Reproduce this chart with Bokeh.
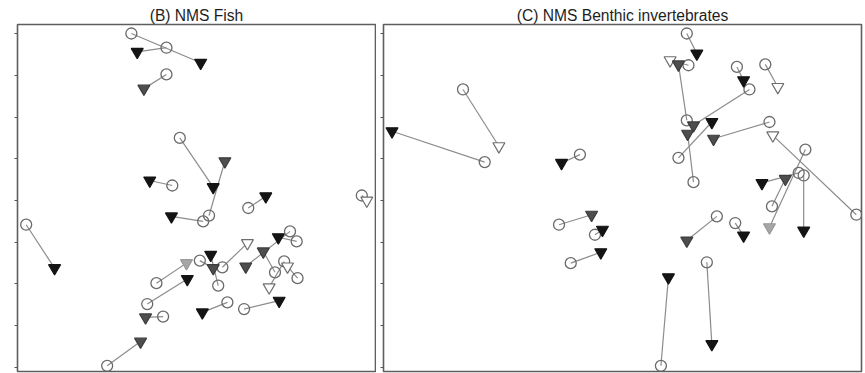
from bokeh.plotting import figure
from bokeh.layouts import row
from bokeh.models import FixedTicker, Range1d, ColumnDataSource
from bokeh.embed import file_html
from bokeh.resources import INLINE

# ---------------- (B) NMS Fish : start (circle) -> end (triangle) ----------------
fish_start_x = [-0.78, -0.36, -0.36, -0.20, -0.29, 0.62, 0.15, 0.08, 1.98, -2.04, -0.48, -0.59,
                -0.40, -1.07, 0.04, 0.31, 0.26, 1.12, 1.20, 0.94, 1.21, 1.05, 0.37, 0.57]
fish_start_y = [2.00, 1.83, 1.51, 0.75, 0.18, -0.09, -0.18, -0.25, 0.06, -0.29, -0.99, -1.24,
                -1.39, -1.98, -0.72, -0.80, -1.02, -0.37, -0.49, -0.86, -0.93, -0.73, -1.22, -1.30]
fish_end_x = [0.05, -0.71, -0.63, 0.20, -0.56, 0.83, 0.34, -0.30, 2.04, -1.70, -0.12, -0.11,
              -0.61, -0.67, 0.20, 0.61, 0.17, 0.59, 0.98, 0.80, 1.09, 0.87, 0.07, 0.99]
fish_end_y = [1.65, 1.78, 1.34, 0.16, 0.24, 0.05, 0.47, -0.19, 0.00, -0.81, -0.75, -0.94,
              -1.40, -1.69, -0.81, -0.51, -0.65, -0.79, -0.44, -0.61, -0.79, -1.04, -1.34, -1.20]
fish_group = ["black", "black", "dark", "black", "black", "black", "dark", "black", "open", "black",
              "light", "black", "dark", "dark", "dark", "open", "black", "dark", "black", "dark",
              "open", "open", "black", "black"]

# ---------------- (C) NMS Benthic invertebrates ----------------
benth_start_x = [0.77, 0.79, 0.77, 1.37, 1.71, 1.52, 0.67, 0.85, 1.76, 2.80, 2.19, 1.79,
                 2.11, 2.17, -1.65, -1.91, -0.51, -0.76, -0.33, -0.62, 1.13, 1.35, 1.01, 0.46]
benth_start_y = [2.00, 1.62, 0.96, 1.60, 1.63, 1.33, 0.51, 0.22, 0.94, -0.17, 0.61, -0.07,
                 0.33, 0.30, 0.46, 1.33, 0.55, -0.29, -0.41, -0.75, -0.19, -0.27, -0.74, -1.98]
benth_end_x = [0.89, 0.57, 0.67, 1.45, 1.86, 0.85, 1.07, 0.78, 1.09, 1.80, 1.76, 1.95,
               1.67, 2.17, -2.76, -1.48, -0.73, -0.37, -0.24, -0.26, 0.77, 1.45, 1.07, 0.55]
benth_end_y = [1.76, 1.68, 1.63, 1.44, 1.36, 0.90, 0.94, 0.80, 0.74, 0.78, -0.32, 0.26,
               0.21, -0.36, 0.83, 0.65, 0.45, -0.17, -0.35, -0.62, -0.48, -0.42, -1.72, -0.92]
benth_group = ["black", "open", "dark", "black", "open", "dark", "black", "dark", "dark", "open",
               "light", "dark", "black", "black", "black", "open", "black", "dark", "black", "black",
               "dark", "black", "black", "black"]

axis_ticks = [-2.0, -1.5, -1.0, -0.5, 0.0, 0.5, 1.0, 1.5, 2.0]

FILL = {"black": "#141414", "dark": "#4e4e4e", "light": "#a6a6a6", "open": "#ffffff"}
EDGE = {"black": "#141414", "dark": "#3c3c3c", "light": "#9a9a9a", "open": "#6e6e6e"}


def panel(title, sx, sy, ex, ey, grp, xhalf, width, bl, br, toff):
    p = figure(width=width, height=373, output_backend="svg", toolbar_location=None,
               x_range=Range1d(-xhalf, xhalf), y_range=Range1d(-2.048, 2.108),
               x_axis_location=None, y_axis_location="left",
               min_border_left=bl, min_border_right=br, min_border_top=24, min_border_bottom=2)
    p.title.text = title
    p.title.align = "center"
    p.title.offset = toff
    p.title.text_font = "Liberation Sans"
    p.title.text_font_size = "15.6px"
    p.title.text_font_style = "normal"
    p.title.text_color = "#1e1e1e"
    p.title.text_line_height = 1.0
    p.title.standoff = 2
    p.xgrid.visible = False
    p.ygrid.visible = False
    p.outline_line_color = "#5e5e5e"
    p.outline_line_width = 1.6
    p.background_fill_color = "white"
    p.border_fill_color = "white"
    ax = p.yaxis[0]
    ax.ticker = FixedTicker(ticks=axis_ticks)
    ax.major_label_overrides = {t: "" for t in axis_ticks}
    ax.major_label_standoff = 0
    ax.axis_line_color = None
    ax.major_tick_in = 0
    ax.major_tick_out = 3
    ax.major_tick_line_color = "#555555"
    ax.major_tick_line_width = 1.2
    ax.minor_tick_line_color = None

    src = ColumnDataSource(dict(sx=sx, sy=sy, ex=ex, ey=ey,
                                fill=[FILL[g] for g in grp], edge=[EDGE[g] for g in grp]))
    p.segment(x0="sx", y0="sy", x1="ex", y1="ey", source=src, line_color="#8c8c8c", line_width=1.2)
    p.scatter(x="sx", y="sy", source=src, marker="circle", size=11, fill_color=None,
              line_color="#6a6a6a", line_width=1.3)
    p.scatter(x="ex", y="ey", source=src, marker="inverted_triangle", size=12,
              fill_color="fill", line_color="edge", line_width=1.2)
    return p


pB = panel("(B) NMS Fish", fish_start_x, fish_start_y, fish_end_x, fish_end_y, fish_group,
           2.144, 376, 17, 1, -1.5)
pC = panel("(C) NMS Benthic invertebrates", benth_start_x, benth_start_y, benth_end_x, benth_end_y,
           benth_group, 2.862, 489, 7, 4, 14)

layout = row(pB, pC, spacing=0)
open("out.html", "w").write(file_html(layout, INLINE))
